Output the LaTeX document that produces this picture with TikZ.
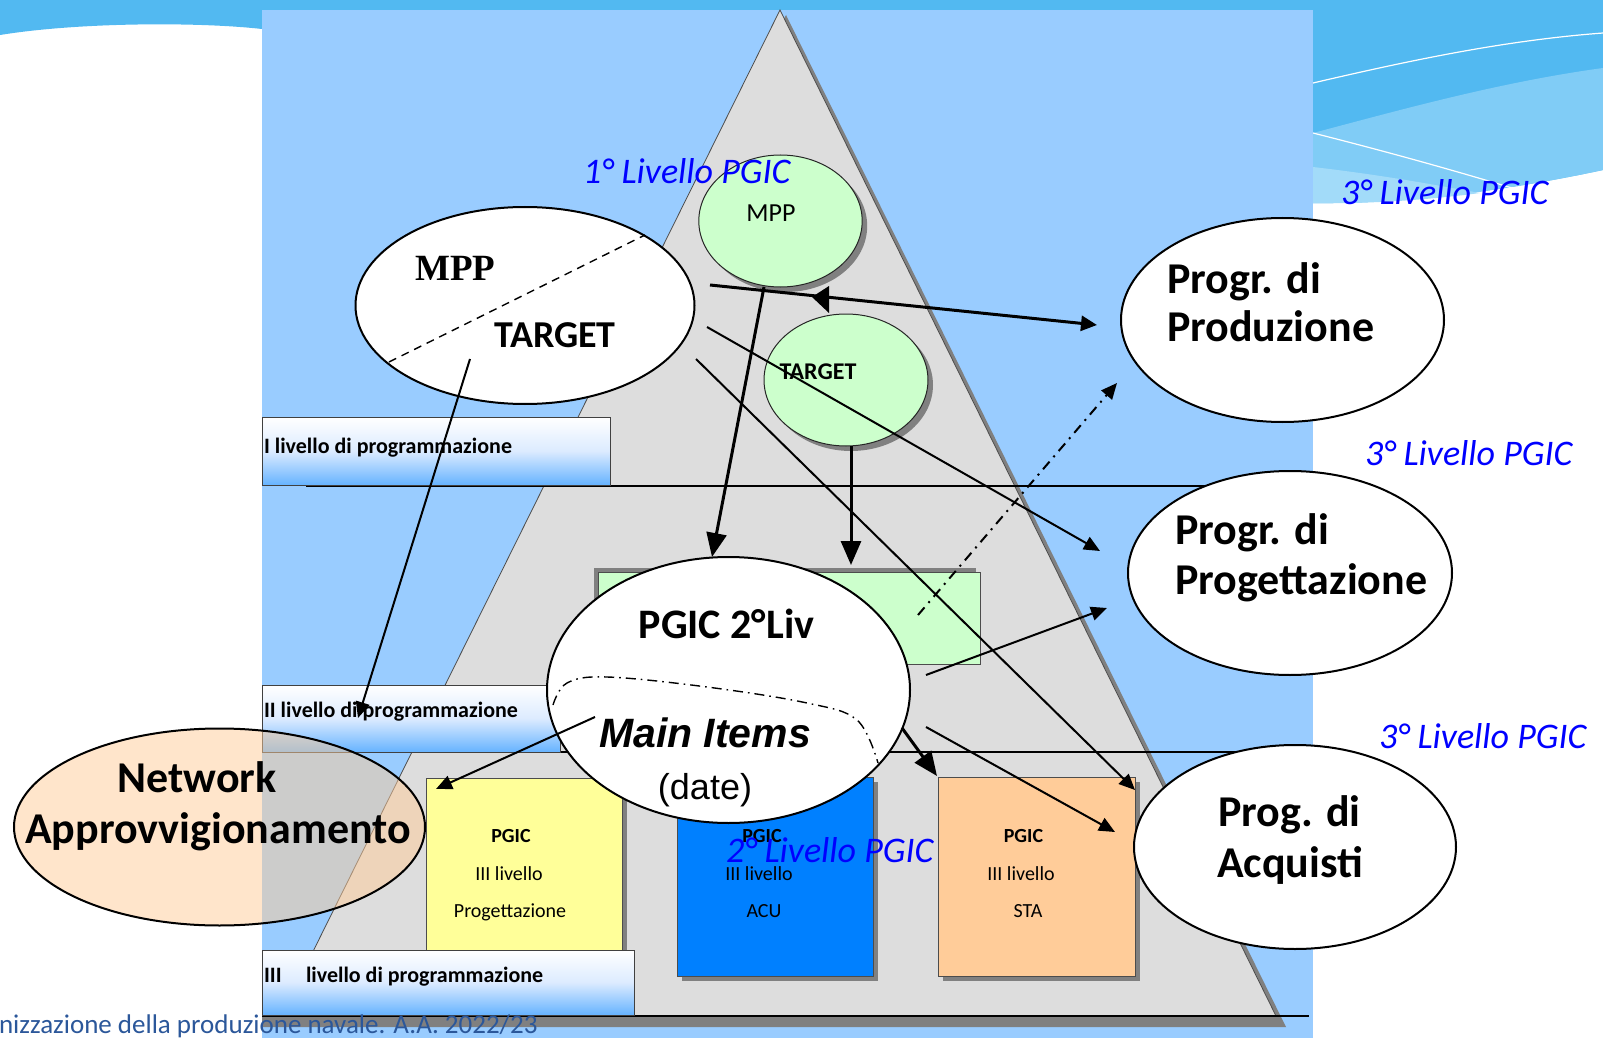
\documentclass[tikz,border=0pt]{standalone}
\usepackage{fontspec}
\setmainfont{Carlito}
\newfontfamily\timesf{Liberation Serif}
\newfontfamily\arialf{Liberation Sans}
\usetikzlibrary{shapes.geometric,arrows.meta,shadows}
\definecolor{bgblue}{HTML}{52B9F1}
\definecolor{bglight}{HTML}{80CCF6}
\definecolor{bglighter}{HTML}{A2DBF9}
\definecolor{rectblue}{HTML}{99CCFF}
\definecolor{trigray}{HTML}{DDDDDD}
\definecolor{shadowgray}{HTML}{808080}
\definecolor{lightgreen}{HTML}{CCFFCC}
\definecolor{yel}{HTML}{FFFF99}
\definecolor{acublue}{HTML}{0080FF}
\definecolor{orng}{HTML}{FFCC99}
\definecolor{gradblue}{HTML}{66B3FF}
\definecolor{gradmid}{HTML}{DCEBFF}
\definecolor{labelblue}{HTML}{0000FF}
\definecolor{footblue}{HTML}{2B579A}
\newcommand{\myfs}[1]{\fontsize{#1}{#1}\selectfont}
\begin{document}
\begin{tikzpicture}[x=0.5pt,y=-0.5pt,
  lbl/.style={inner sep=0pt,outer sep=0pt},
  bluelbl/.style={lbl,anchor=base west,text=labelblue,font=\myfs{18pt}\itshape},
  boxlbl/.style={lbl,anchor=base west,font=\myfs{11pt}\bfseries},
  bigtxt/.style={lbl,anchor=base west,font=\myfs{22pt}\bfseries},
  smalltxt/.style={lbl,anchor=base,font=\myfs{10pt}},
  shad/.style={drop shadow={shadow xshift=2.5pt,shadow yshift=-2.5pt,fill=shadowgray,opacity=1}},
  gbox/.style={rectangle,draw=black!75,line width=0.5pt,inner sep=0pt,outer sep=0pt,
    top color=white,bottom color=gradblue,middle color=gradmid},
  cbox/.style={rectangle,draw=black!70,line width=0.5pt,inner sep=0pt,outer sep=0pt,shad},
  whiteell/.style={ellipse,draw=black,line width=1pt,fill=white,inner sep=0pt,outer sep=0pt},
  greenell/.style={ellipse,draw=black!85,line width=0.5pt,fill=lightgreen,inner sep=0pt,outer sep=0pt,shad},
  thinarr/.style={line width=1pt,-{Triangle[length=8pt,width=7pt]}},
  medarr/.style={line width=1.5pt,-{Triangle[length=8pt,width=7.5pt]}},
  thickarr/.style={line width=1.5pt,-{Triangle[length=12pt,width=10pt]}}
]
\useasboundingbox (0,0) rectangle (1603,1038);
% background
\fill[white] (0,0) rectangle (1603,1038);
\fill[bgblue] (0,0) -- (1603,0) -- (1603,170) .. controls (1500,192) and (1400,204) .. (1313,203)
  -- (1313,10) -- (262,10) -- (262,29) .. controls (200,22) and (80,22) .. (0,35) -- cycle;
\fill[bglight] (1313,133) .. controls (1400,110) and (1500,82) .. (1603,68) -- (1603,170)
  .. controls (1500,192) and (1400,204) .. (1313,203) -- cycle;
\fill[bglighter] (1313,167) .. controls (1390,176) and (1440,186) .. (1480,193)
  .. controls (1420,201) and (1360,204) .. (1313,203) -- cycle;
\draw[white,line width=0.6pt] (1313,83) .. controls (1420,58) and (1510,40) .. (1603,33);
\draw[white,line width=0.6pt] (1313,133) .. controls (1400,155) and (1470,175) .. (1535,195);
\fill[rectblue] (262,10) rectangle (1313,1038);
% pyramid
\fill[shadowgray] (786,15) -- (1286,1027) -- (262,1027) -- (262,1016) -- (281,1016) -- cycle;
\filldraw[fill=trigray,draw=black!70,line width=0.4pt] (780,10) -- (1276,1016) -- (281,1016) -- cycle;
\draw[line width=0.6pt] (306,486) -- (1210,486);
\draw[line width=0.6pt] (262,752) -- (1250,752);
\draw[line width=0.6pt] (262,1016) -- (1309,1016);
% level boxes
\node[gbox,minimum width=174pt,minimum height=34pt] (lev1) at (436,451) {};
\node[gbox,minimum width=149pt,minimum height=33.5pt] (lev2) at (411,718.5) {};
\node[rectangle,draw=black!70,line width=0.5pt,fill=lightgreen,inner sep=0pt,outer sep=0pt,
  minimum width=191pt,minimum height=46pt,
  drop shadow={shadow xshift=-2pt,shadow yshift=2pt,fill=shadowgray,opacity=1}] (grect) at (789,618) {};
\node[cbox,fill=yel,minimum width=98pt,minimum height=88.5pt] (yelbox) at (524,866.5) {};
\node[cbox,fill=acublue,minimum width=98pt,minimum height=99.5pt] (acubox) at (775,876.5) {};
\node[cbox,fill=orng,minimum width=98.5pt,minimum height=99.5pt] (stabox) at (1036.5,876.5) {};
\node[gbox,minimum width=186pt,minimum height=32.5pt] (lev3) at (448,982.5) {};
% ellipses
\node[greenell,minimum width=81.7pt,minimum height=66pt] (mppc) at (780.5,221) {};
\node[greenell,minimum width=82pt,minimum height=66pt] (targc) at (846,380) {};
\node[whiteell,minimum width=169.5pt,minimum height=98.5pt] (mppt) at (525,305.5) {};
\draw[line width=0.7pt,dash pattern=on 4pt off 3pt] (389,362) -- (645,235);
\node[whiteell,minimum width=181.5pt,minimum height=133pt] (pgic) at (728.5,690) {};
\draw[line width=0.7pt,dash pattern=on 5pt off 2.5pt on 0.8pt off 2.5pt]
  plot[smooth,tension=0.6] coordinates {(553,705) (567,683) (607,677) (707,687) (807,703) (857,720) (878,763)};
\node[whiteell,minimum width=161.5pt,minimum height=102pt] (prod) at (1282.5,320) {};
\node[whiteell,minimum width=162pt,minimum height=102pt] (progt) at (1290,573) {};
\node[whiteell,minimum width=161pt,minimum height=102pt] (acq) at (1295,847) {};
\node[ellipse,draw=black,line width=1pt,fill=orng,fill opacity=0.5,inner sep=0pt,outer sep=0pt,
  minimum width=205.5pt,minimum height=98.5pt] (net) at (219.5,827) {};
% texts
\node[boxlbl] (t1) at (264,453) {I livello di programmazione};
\node[boxlbl] (t2) at (264,717) {II livello di programmazione};
\node[boxlbl] (t3) at (264,982) {III\hspace{12.2pt}livello di programmazione};
\node[smalltxt,font=\myfs{10pt}\bfseries] (y1) at (511,842.5) {PGIC};
\node[smalltxt] (y2) at (509,880.5) {III livello};
\node[smalltxt] (y3) at (510,917.5) {Progettazione};
\node[smalltxt,font=\myfs{10pt}\bfseries] (a1) at (762,842.5) {PGIC};
\node[smalltxt] (a2) at (759,880.5) {III livello};
\node[smalltxt] (a3) at (764,917.5) {ACU};
\node[smalltxt,font=\myfs{10pt}\bfseries] (s1) at (1023.5,842.5) {PGIC};
\node[smalltxt] (s2) at (1021,880.5) {III livello};
\node[smalltxt] (s3) at (1028,917.5) {STA};
\node[lbl,anchor=base,font=\myfs{13pt}] (mppct) at (771,221) {MPP};
\node[lbl,anchor=base,font=\myfs{12pt}\bfseries] (targct) at (818,379.5) {TARGET};
\node[lbl,anchor=base,font=\timesf\myfs{18.5pt}\bfseries] (mppt1) at (455.5,280) {MPP};
\node[lbl,anchor=base,font=\myfs{19pt}\bfseries] (mppt2) at (555,347) {TARGET};
\node[lbl,anchor=base,font=\myfs{21pt}\bfseries] (pgict) at (726.5,638) {PGIC 2°Liv};
\node[lbl,anchor=base,font=\arialf\myfs{20.5pt}\bfseries\itshape] (mainit) at (705,747) {Main Items};
\node[lbl,anchor=base,font=\arialf\myfs{18pt}] (datet) at (705,799) {(date)};
\node[lbl,anchor=base,font=\myfs{22pt}\bfseries] (net1) at (197,792) {Network};
\node[lbl,anchor=base,font=\myfs{22pt}\bfseries] (net2) at (218,843) {Approvvigionamento};
\node[bigtxt] (pr1) at (1167,293) {Progr. di};
\node[bigtxt] (pr2) at (1167,342) {Produzione};
\node[bigtxt] (pg1) at (1175,544) {Progr. di};
\node[bigtxt] (pg2) at (1175,594) {Progettazione};
\node[bigtxt] (aq1) at (1218,826) {Prog. di};
\node[bigtxt] (aq2) at (1217,877.5) {Acquisti};
% arrows
\coordinate (aS) at (710,285); \coordinate (aE) at (1097,325);
\coordinate (bS) at (764,287); \coordinate (bE) at (712,557);
\coordinate (cS) at (851,446); \coordinate (cE) at (851,565);
\coordinate (dS) at (707,327); \coordinate (dE) at (1100,551);
\coordinate (eS) at (696,359); \coordinate (eE) at (1135,790);
\coordinate (fS) at (470,359); \coordinate (fE) at (358,718);
\coordinate (gS) at (926,675); \coordinate (gE) at (1107,608);
\coordinate (hS) at (902,728); \coordinate (hE) at (937,776);
\coordinate (iS) at (926,727); \coordinate (iE) at (1115,832);
\coordinate (jS) at (595,717); \coordinate (jE) at (436,789);
\coordinate (kS) at (918,615); \coordinate (kE) at (1117,383);
\draw[medarr] (aS) -- (aE);
\fill (812,297) -- (829,286) -- (829,313) -- cycle;
\draw[thickarr] (bS) -- (bE);
\draw[thickarr] (cS) -- (cE);
\draw[thinarr] (dS) -- (dE);
\draw[thinarr] (eS) -- (eE);
\draw[thinarr] (fS) -- (fE);
\draw[thinarr] (gS) -- (gE);
\draw[thickarr] (hS) -- (hE);
\draw[thinarr] (iS) -- (iE);
\draw[thinarr] (jS) -- (jE);
\draw[thinarr,dash pattern=on 5pt off 3pt on 1pt off 3pt] (kS) -- (kE);
% blue labels
\node[bluelbl] (l1) at (583,184) {1° Livello PGIC};
\node[bluelbl] (l2) at (726,862) {2° Livello PGIC};
\node[bluelbl] (l3a) at (1341,205) {3° Livello PGIC};
\node[bluelbl] (l3b) at (1365,465) {3° Livello PGIC};
\node[bluelbl] (l3c) at (1379,748) {3° Livello PGIC};
% footer
\node[lbl,anchor=base west,text=footblue,font=\myfs{13.5pt}] (foot) at (-1,1033) {nizzazione della produzione navale. A.A. 2022/23};
\end{tikzpicture}
\end{document}
